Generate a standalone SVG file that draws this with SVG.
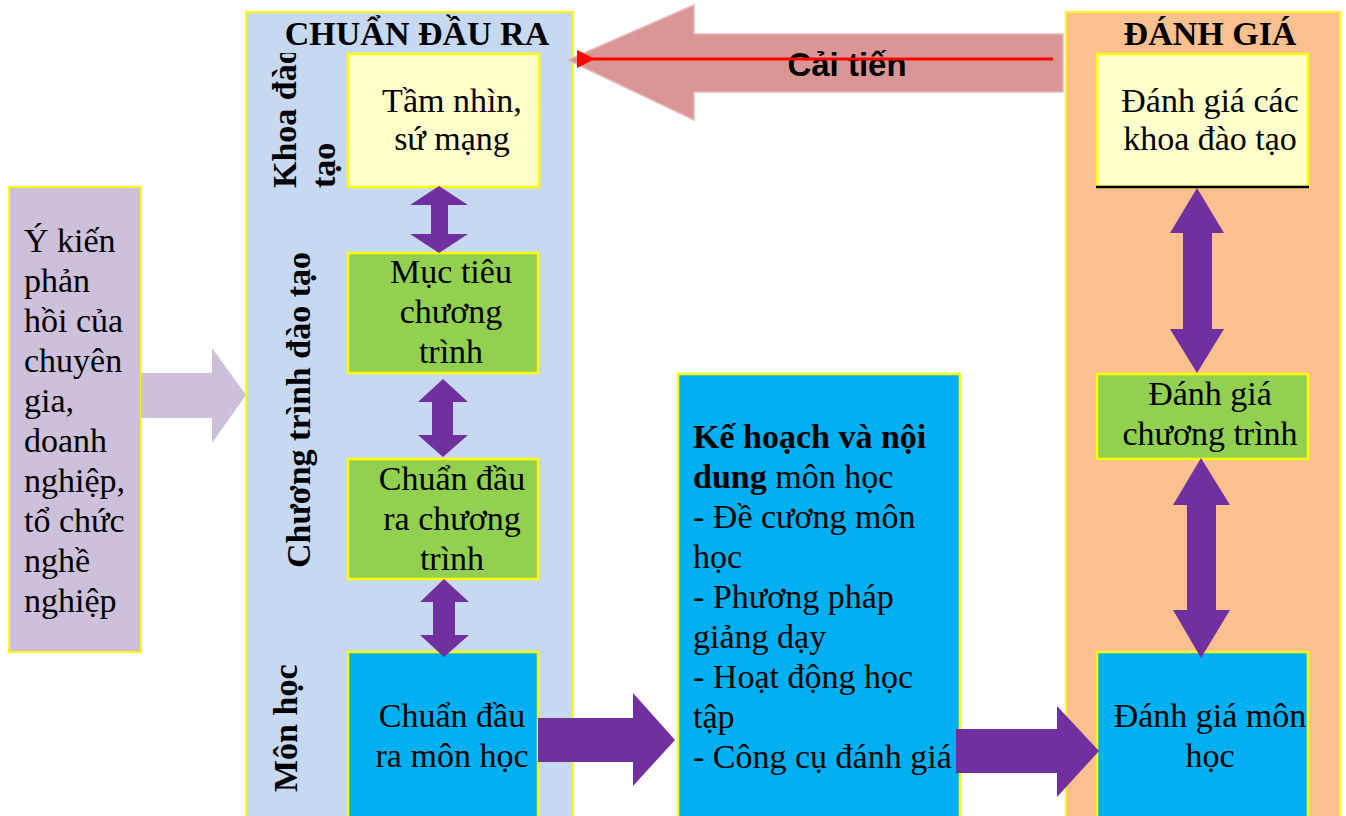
<svg xmlns="http://www.w3.org/2000/svg" width="1346" height="816" viewBox="0 0 1346 816">
<style>
.panel{stroke:#FFFF00;stroke-width:2}
.box{stroke:#FFFF00;stroke-width:2.5}
.t{font-family:"Liberation Serif","Times New Roman",serif;font-size:34px;fill:#000}
.c{text-anchor:middle}
.b{font-weight:bold}
.pu{fill:#7030A0}
</style>
<defs>
<clipPath id="clipKhoa"><rect x="255" y="53" width="95" height="140"/></clipPath>
<clipPath id="clipCT"><rect x="255" y="252" width="95" height="330"/></clipPath>
<marker id="redHead" markerWidth="6" markerHeight="6" refX="1" refY="3" orient="auto" markerUnits="strokeWidth"><path d="M6,0 L0,3 L6,6 Z" fill="#FF0000"/></marker>
</defs>

<g id="panel-chuan-dau-ra">
<rect class="panel" x="246" y="12" width="327" height="810" fill="#C6D9F1"/>
<text class="t b c" x="417" y="45" font-size="33">CHUẨN ĐẦU RA</text>
<g clip-path="url(#clipKhoa)">
<text class="t b" transform="translate(296,188) rotate(-90)">Khoa đào</text>
<text class="t b" transform="translate(335,188) rotate(-90)">tạo</text>
</g>
<g clip-path="url(#clipCT)">
<text class="t b" transform="translate(310,568) rotate(-90)">Chương trình đào tạo</text>
</g>
<text class="t b" transform="translate(297,792) rotate(-90)">Môn học</text>
</g>

<g id="panel-danh-gia">
<rect class="panel" x="1066" y="12" width="274" height="810" fill="#FAC090"/>
<text class="t b c" x="1210" y="45" font-size="33">ĐÁNH GIÁ</text>
</g>

<g id="node-y-kien">
<rect class="panel" x="9" y="187" width="132" height="465" fill="#CCC0DA"/>
<text class="t" x="24" y="252">Ý kiến</text>
<text class="t" x="24" y="292">phản</text>
<text class="t" x="24" y="332">hồi của</text>
<text class="t" x="24" y="372">chuyên</text>
<text class="t" x="24" y="412">gia,</text>
<text class="t" x="24" y="452">doanh</text>
<text class="t" x="24" y="492">nghiệp,</text>
<text class="t" x="24" y="532">tổ chức</text>
<text class="t" x="24" y="572">nghề</text>
<text class="t" x="24" y="612">nghiệp</text>
</g>

<g id="node-tam-nhin">
<rect class="box" x="348" y="54" width="191" height="133" fill="#FFFFCC"/>
<text class="t c" x="452" y="112">Tầm nhìn,</text>
<text class="t c" x="452" y="150">sứ mạng</text>
</g>

<g id="node-muc-tieu">
<rect class="box" x="348" y="253" width="190" height="120" fill="#92D050"/>
<text class="t c" x="451" y="283">Mục tiêu</text>
<text class="t c" x="451" y="323">chương</text>
<text class="t c" x="451" y="363">trình</text>
</g>

<g id="node-chuan-dau-ra-ct">
<rect class="box" x="348" y="459" width="190" height="120" fill="#92D050"/>
<text class="t c" x="452" y="490">Chuẩn đầu</text>
<text class="t c" x="452" y="530">ra chương</text>
<text class="t c" x="452" y="570">trình</text>
</g>

<g id="node-chuan-dau-ra-mh">
<rect class="box" x="348" y="652" width="190" height="170" fill="#00B0F0"/>
<text class="t c" x="452" y="727">Chuẩn đầu</text>
<text class="t c" x="452" y="767">ra môn học</text>
</g>

<g id="node-ke-hoach">
<rect class="box" x="678" y="374" width="282" height="448" fill="#00B0F0"/>
<text class="t" x="693" y="448"><tspan class="b">Kế hoạch và nội</tspan></text>
<text class="t" x="693" y="488"><tspan class="b">dung</tspan> môn học</text>
<text class="t" x="693" y="528">- Đề cương môn</text>
<text class="t" x="693" y="568">học</text>
<text class="t" x="693" y="608">- Phương pháp</text>
<text class="t" x="693" y="648">giảng dạy</text>
<text class="t" x="693" y="688">- Hoạt động học</text>
<text class="t" x="693" y="728">tập</text>
<text class="t" x="693" y="768">- Công cụ đánh giá</text>
</g>

<g id="node-danh-gia-khoa">
<rect x="1097" y="54" width="211" height="133" fill="#FFFFCC" stroke="#FFFF00" stroke-width="2.5"/>
<line x1="1096" y1="187" x2="1309" y2="187" stroke="#000" stroke-width="2.5"/>
<text class="t c" x="1210" y="112">Đánh giá các</text>
<text class="t c" x="1210" y="150">khoa đào tạo</text>
</g>

<g id="node-danh-gia-ct">
<rect class="box" x="1097" y="374" width="211" height="85" fill="#92D050"/>
<text class="t c" x="1210" y="405">Đánh giá</text>
<text class="t c" x="1210" y="445">chương trình</text>
</g>

<g id="node-danh-gia-mh">
<rect class="box" x="1097" y="652" width="211" height="170" fill="#00B0F0"/>
<text class="t c" x="1210" y="727">Đánh giá môn</text>
<text class="t c" x="1210" y="767">học</text>
</g>

<g id="connectors">
<!-- feedback arrow -->
<polygon points="141,373 212,373 212,348 246,395 212,443 212,418 141,418" fill="#CCC0DA"/>
<!-- Cai tien arrow -->
<polygon points="568,60 694,5 694,34 1063,34 1063,92 694,92 694,120" fill="#D99694" stroke="#E6B9B8" stroke-width="1.5"/>
<text x="847" y="76" font-family="'Liberation Sans',Arial,sans-serif" font-size="33" font-weight="bold" text-anchor="middle" fill="#000">Cải tiến</text>
<line x1="1053" y1="59" x2="592" y2="59" stroke="#FF0000" stroke-width="3" marker-end="url(#redHead)"/>
<!-- left vertical double arrows -->
<polygon class="pu" points="439,186 468,205 448,205 448,234 468,234 439,253 410,234 431,234 431,205 410,205"/>
<polygon class="pu" points="443,379 468,402 453,402 453,435 468,435 443,457 418,435 432,435 432,402 418,402"/>
<polygon class="pu" points="444,579 469,602 455,602 455,635 469,635 444,657 420,635 433,635 433,602 420,602"/>
<!-- right vertical double arrows -->
<polygon class="pu" points="1197,188 1224,233 1212,233 1212,329 1224,329 1197,373 1170,329 1183,329 1183,233 1170,233"/>
<polygon class="pu" points="1201,458 1230,505 1216,505 1216,610 1230,610 1201,658 1173,610 1187,610 1187,505 1173,505"/>
<!-- horizontal arrows -->
<polygon class="pu" points="538,718 633,718 633,693 675,740 633,786 633,762 538,762"/>
<polygon class="pu" points="956,729 1057,729 1057,706 1099,751 1057,797 1057,773 956,773"/>
</g>
</svg>
